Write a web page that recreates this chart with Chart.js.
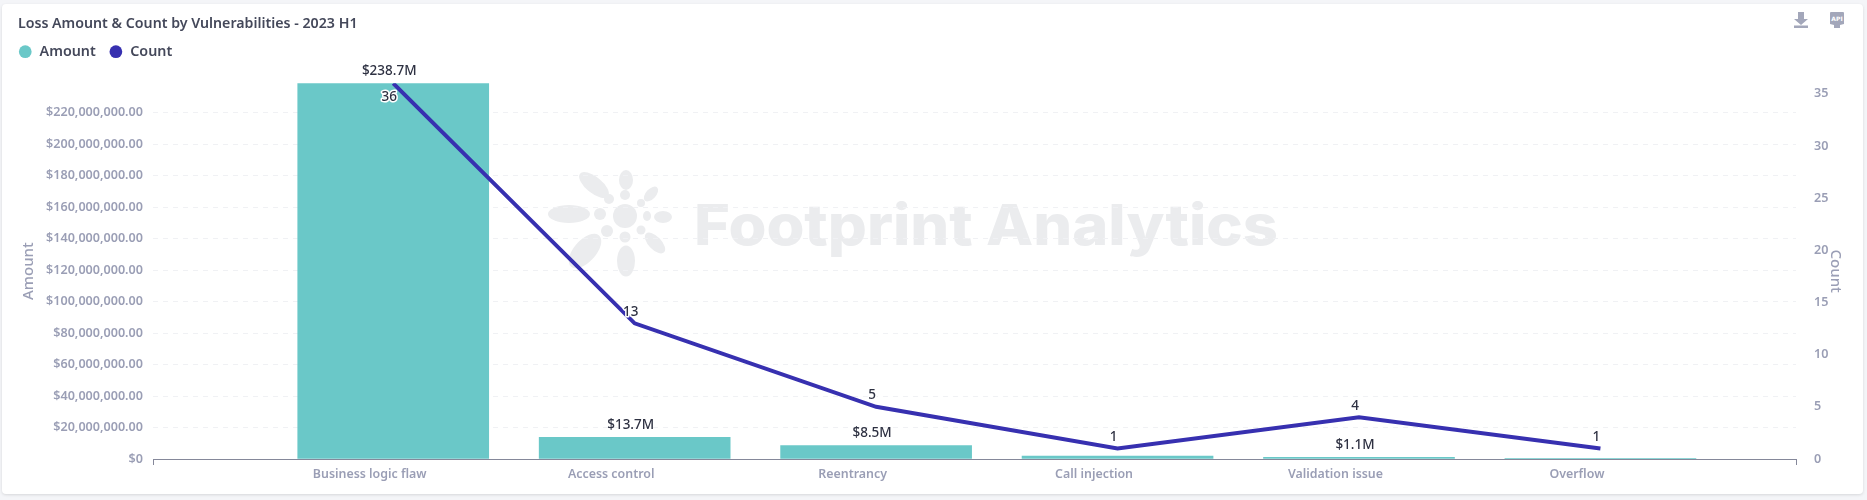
<!DOCTYPE html>
<html>
<head>
<meta charset="utf-8">
<title>Loss Amount & Count by Vulnerabilities - 2023 H1</title>
<script src="https://cdn.jsdelivr.net/npm/chart.js@4"></script>
<style>
  html, body { margin: 0; padding: 0; background: #f4f5f8; }
  body { width: 1867px; height: 500px; position: relative; overflow: hidden; }
  .card {
    position: absolute; left: 2px; top: 4px; width: 1861px; height: 490px;
    background: #fff; border-radius: 4px; box-shadow: 0 1px 3px rgba(0, 0, 0, .12);
  }
  .mark { position: absolute; left: 0; top: 0; }
  #chart-wrap { position: absolute; left: 0; top: 0; width: 1867px; height: 500px; }
</style>
</head>
<body>
<div class="card"></div>

<!-- watermark and toolbar icons -->
<svg class="mark" width="1867" height="500" xmlns="http://www.w3.org/2000/svg">
  <g fill="#ebecee">
    <ellipse cx="625" cy="216" rx="12" ry="12"/>
    <ellipse cx="626" cy="180" rx="7" ry="10"/>
    <ellipse cx="594" cy="185" rx="18" ry="8" transform="rotate(39 594 185)"/>
    <ellipse cx="651" cy="194" rx="9" ry="5" transform="rotate(-47 651 194)"/>
    <ellipse cx="569" cy="214" rx="21" ry="9"/>
    <ellipse cx="663" cy="217" rx="9" ry="6"/>
    <ellipse cx="585" cy="251" rx="21" ry="11" transform="rotate(-48 585 251)"/>
    <ellipse cx="626" cy="261" rx="9" ry="15.5"/>
    <ellipse cx="655" cy="243" rx="13" ry="6.5" transform="rotate(46 655 243)"/>
    <circle cx="625" cy="195" r="5"/>
    <circle cx="609" cy="199" r="5"/>
    <circle cx="641" cy="203" r="4"/>
    <circle cx="600" cy="214" r="6"/>
    <ellipse cx="647" cy="216" rx="4" ry="5"/>
    <circle cx="607" cy="231" r="6"/>
    <circle cx="641" cy="230" r="4.5"/>
    <circle cx="625" cy="237" r="5.5"/>
    <text x="694" y="245" font-family="Inter, 'Open Sans', sans-serif" font-weight="800" font-size="56" textLength="584" lengthAdjust="spacingAndGlyphs">Footprint Analytics</text>
  </g>
  <g fill="#a3a7ba">
    <path d="M1798 12h6v7h4l-7 6-7-6h4z"/>
    <rect x="1794" y="25.5" width="14" height="2.5"/>
    <path d="M1830 13a1 1 0 0 1 1-1h12a1 1 0 0 1 1 1v11l-4 1v3h-6v-3l-4-1z"/>
    <text x="1837" y="21" font-family="'DejaVu Sans', sans-serif" font-size="6" font-weight="700" fill="#fff" text-anchor="middle">API</text>
  </g>
</svg>

<div id="chart-wrap"><canvas id="myChart"></canvas></div>

<script>
/* ================= DATA ================= */
const categories = ['Business logic flaw', 'Access control', 'Reentrancy', 'Call injection', 'Validation issue', 'Overflow'];
const amountValues = [238700000, 13700000, 8500000, 1900000, 1100000, 400000];
const amountLabels = ['$238.7M', '$13.7M', '$8.5M', '', '$1.1M', ''];
const countValues = [36, 13, 5, 1, 4, 1];
const amountTicks = [0, 20e6, 40e6, 60e6, 80e6, 100e6, 120e6, 140e6, 160e6, 180e6, 200e6, 220e6];
const countTicks = [0, 5, 10, 15, 20, 25, 30, 35];

/* ================= CONFIG ================= */
const FONT = "'Noto Sans', sans-serif";
const TICK_COLOR = '#9a9eb5';
const TEXT_COLOR = '#2e3142';
const BAR_COLOR = '#6ac8c8';
const LINE_COLOR = '#3730b0';
const AXIS_COLOR = '#85889a';
const X_MIN = -0.995;
const X_MAX = 5.81;

function formatAmount(value) {
    if (value === 0) return '$0';
    return '$' + value.toLocaleString('en-US', { minimumFractionDigits: 2, maximumFractionDigits: 2 });
}

/* value labels sit on the drawn marks, a little left of their centre */
const valueLabels = {
    id: 'valueLabels',
    afterDatasetsDraw(chart) {
        const ctx = chart.ctx;
        ctx.save();
        ctx.font = '500 13.5px ' + FONT;
        ctx.textAlign = 'center';
        ctx.textBaseline = 'middle';
        ctx.lineJoin = 'round';
        chart.getDatasetMeta(0).data.forEach((bar, i) => {
            if (!amountLabels[i]) return;
            ctx.fillStyle = TEXT_COLOR;
            ctx.fillText(amountLabels[i], bar.x - 4, bar.y - 12);
        });
        chart.getDatasetMeta(1).data.forEach((point, i) => {
            // the top point has no room above it
            const y = i === 0 ? point.y + 14 : point.y - 11.5;
            ctx.strokeStyle = '#fff';
            ctx.lineWidth = 3;
            ctx.strokeText(countValues[i], point.x - 4, y);
            ctx.fillStyle = TEXT_COLOR;
            ctx.fillText(countValues[i], point.x - 4, y);
        });
        ctx.restore();
    }
};

/* title and legend hug the card corner, the plot keeps its own padding */
const headerShift = {
    id: 'headerShift',
    afterLayout(chart) {
        chart.titleBlock.left -= 1.6;
        chart.legend.left -= 14.4;
        chart.legend.top -= 14.5;
    }
};

/* ================= CHART ================= */
new Chart(document.getElementById('myChart'), {
    data: {
        datasets: [{
            type: 'bar',
            label: 'Amount',
            data: amountValues.map((v, i) => ({ x: i, y: v })),
            backgroundColor: BAR_COLOR,
            barThickness: 191,
            xAxisID: 'x',
            yAxisID: 'y',
            order: 2
        }, {
            type: 'line',
            label: 'Count',
            data: countValues.map((v, i) => ({ x: i, y: v })),
            borderColor: LINE_COLOR,
            backgroundColor: LINE_COLOR,
            borderWidth: 4,
            borderJoinStyle: 'miter',
            pointRadius: 0,
            tension: 0,
            xAxisID: 'x',
            yAxisID: 'y1',
            order: 1
        }]
    },
    options: {
        responsive: true,
        maintainAspectRatio: false,
        animation: false,
        layout: { padding: { top: 6, left: 19.5, right: 22.7, bottom: 0 } },
        plugins: {
            tooltip: { enabled: false },
            title: {
                display: true,
                text: 'Loss Amount & Count by Vulnerabilities - 2023 H1',
                align: 'start',
                color: '#44485a',
                font: { family: FONT, size: 14.2, weight: '600' },
                padding: { top: 9, bottom: 14 }
            },
            legend: {
                display: true,
                align: 'start',
                labels: {
                    usePointStyle: true,
                    boxHeight: 9,
                    padding: 13,
                    color: '#44485a',
                    font: { family: FONT, size: 14.3, weight: '600' },
                    generateLabels(chart) {
                        return chart.data.datasets.map((d, i) => ({
                            text: d.label,
                            fillStyle: i === 0 ? BAR_COLOR : LINE_COLOR,
                            strokeStyle: i === 0 ? BAR_COLOR : LINE_COLOR,
                            fontColor: '#44485a',
                            lineWidth: 0,
                            pointStyle: 'circle',
                            datasetIndex: i
                        }));
                    }
                }
            }
        },
        scales: {
            x: {
                type: 'linear',
                offset: false,
                min: X_MIN,
                max: X_MAX,
                afterFit(scale) { scale.height = 41; },
                afterBuildTicks(scale) {
                    scale.ticks = [X_MIN].concat(categories.map((c, i) => i), X_MAX).map(value => ({ value }));
                },
                ticks: {
                    autoSkip: false,
                    maxRotation: 0,
                    labelOffset: -23.5,
                    padding: 2,
                    color: TICK_COLOR,
                    font: { family: FONT, size: 12.4, weight: '600' },
                    callback(value) { return categories[value] || ''; }
                },
                border: { display: true, color: AXIS_COLOR, width: 1 },
                grid: {
                    offset: false,
                    drawOnChartArea: false,
                    drawTicks: true,
                    tickLength: 6,
                    tickColor: AXIS_COLOR,
                    // only the two axis ends carry a tick mark
                    tickWidth(ctx) {
                        const v = ctx.tick && ctx.tick.value;
                        return v === X_MIN || v === X_MAX ? 1 : 0;
                    }
                }
            },
            y: {
                position: 'left',
                min: 0,
                max: amountValues[0],
                afterFit(scale) { scale.width = 133.5; },
                afterBuildTicks(scale) { scale.ticks = amountTicks.map(value => ({ value })); },
                title: {
                    display: true,
                    text: 'Amount',
                    color: TICK_COLOR,
                    font: { family: FONT, size: 15, weight: '500' },
                    padding: 0
                },
                ticks: {
                    padding: 10,
                    color: TICK_COLOR,
                    font: { family: FONT, size: 12.6, weight: '600' },
                    callback: formatAmount
                },
                border: { display: false, dash: [5, 5] },
                grid: { color: '#f0f1f4', drawTicks: false }
            },
            y1: {
                position: 'right',
                min: 0,
                max: countValues[0],
                afterFit(scale) { scale.width = 48.3; },
                afterBuildTicks(scale) { scale.ticks = countTicks.map(value => ({ value })); },
                title: {
                    display: true,
                    text: 'Count',
                    color: TICK_COLOR,
                    font: { family: FONT, size: 15, weight: '500' },
                    padding: 0
                },
                ticks: {
                    padding: 10,
                    color: TICK_COLOR,
                    font: { family: FONT, size: 12.6, weight: '600' }
                },
                border: { display: false },
                grid: { display: false }
            }
        }
    },
    plugins: [valueLabels, headerShift]
});
</script>
</body>
</html>
